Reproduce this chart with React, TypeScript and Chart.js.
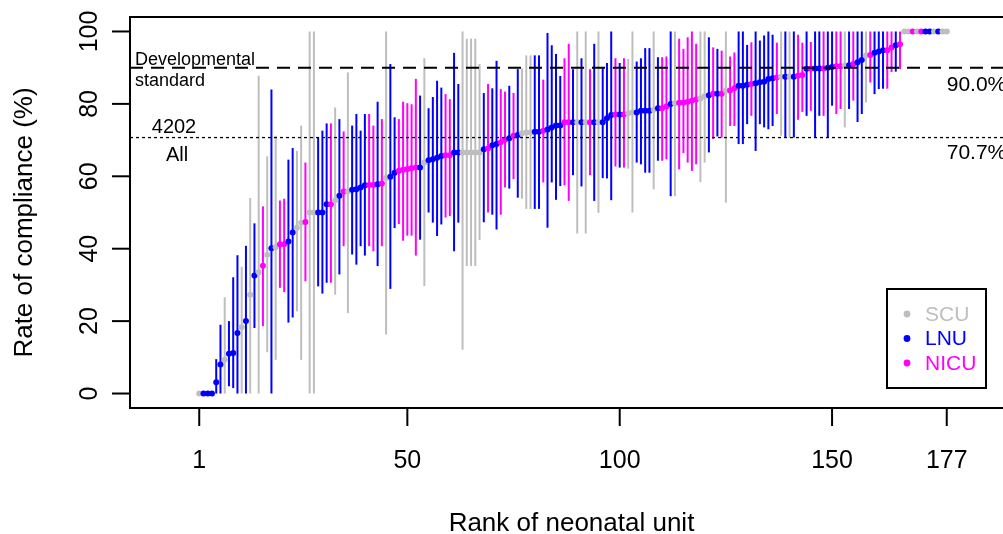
import React, { useEffect, useRef } from 'react';
import { Chart, registerables } from 'chart.js';
Chart.register(...registerables);

// Unit type per rank: S = SCU, L = LNU, N = NICU
const unitType = [
  'S','L','L','L','L','L','S','L','L','L',
  'S','L','S','L','S','N','S','L','S','N',
  'N','L','L','S','S','N','S','S','L','L',
  'L','N','S','L','N','S','L','L','L','L',
  'N','N','L','N','S','L','L','N','N','N',
  'N','N','L','S','L','L','L','L','N','N',
  'L','L','S','S','S','S','S','L','N','L',
  'L','N','N','L','N','L','S','S','S','L',
  'L','N','L','L','L','L','N','N','L','S',
  'L','S','N','L','S','L','L','L','N','L',
  'N','S','S','L','L','L','L','S','L','N',
  'N','L','S','N','N','N','N','N','S','S',
  'L','N','L','N','S','N','N','L','L','L',
  'N','L','L','L','L','L','N','S','L','S',
  'L','N','N','L','N','L','L','N','L','L',
  'N','N','S','L','N','L','L','S','N','L',
  'L','L','N','N','L','N','S','S','N','S',
  'N','L','L','S','L','S','S',
];

const rate = [
  0, 0, 0, 0, 3.1, 8.0, 9.3, 11.0, 11.2, 16.7,
  18.3, 20.0, 27.3, 32.6, 33.5, 35.3, 38.3, 40.1, 40.4, 41.2,
  41.2, 42.0, 44.5, 45.8, 47.2, 47.4, 50.0, 50.0, 50.0, 50.0,
  52.3, 52.3, 53.4, 54.6, 55.8, 55.8, 56.3, 56.4, 56.9, 57.5,
  57.6, 57.6, 57.8, 58.0, 59.5, 59.9, 61.0, 61.5, 61.8, 62.0,
  62.2, 62.4, 62.4, 63.8, 64.4, 64.7, 65.1, 65.6, 65.8, 65.8,
  66.6, 66.6, 66.6, 66.6, 66.6, 66.6, 66.6, 67.5, 67.7, 68.6,
  68.9, 69.4, 70.1, 70.5, 71.2, 71.4, 71.9, 72.1, 72.1, 72.3,
  72.3, 72.6, 72.9, 73.5, 74.0, 74.0, 74.9, 74.9, 74.9, 74.9,
  74.9, 74.9, 74.9, 74.9, 74.9, 74.9, 76.0, 76.9, 77.1, 77.1,
  77.1, 77.4, 77.6, 77.6, 78.1, 78.1, 78.1, 78.4, 78.8, 78.8,
  79.3, 80.0, 80.2, 80.3, 80.4, 80.6, 80.9, 81.2, 81.5, 82.1,
  82.4, 82.8, 82.8, 82.8, 83.7, 83.7, 84.3, 85.0, 85.0, 85.3,
  85.5, 85.7, 86.0, 86.1, 86.9, 87.1, 87.3, 87.5, 87.5, 87.5,
  87.5, 87.8, 88.0, 89.7, 89.8, 89.8, 89.8, 89.8, 90.0, 90.2,
  90.4, 90.4, 90.6, 90.7, 91.0, 91.5, 92.1, 93.4, 93.5, 94.1,
  94.5, 94.8, 94.8, 95.6, 96.2, 96.5, 100, 100, 100, 100,
  100, 100, 100, 100, 100, 100, 100,
];

const lower = [
  0, 0, 0, 0, 0, 0, 0, 2.0, 1.5, 0,
  0, 0, 0, 18.1, 0, 18.6, 11.4, 0, 9.3, 29.2,
  28.0, 19.6, 21.0, 22.7, 9.3, 31.0, 0, 0, 29.6, 27.6,
  30.6, 30.6, 27.3, 32.9, 40.7, 22.2, 38.4, 35.6, 40.7, 38.1,
  40.7, 39.3, 35.2, 40.7, 16.3, 28.9, 45.7, 46.8, 42.2, 43.6,
  43.6, 38.1, 42.5, 29.7, 50.0, 47.2, 43.5, 46.7, 48.6, 49.0,
  39.3, 47.2, 12.1, 35.2, 35.2, 35.2, 42.4, 47.3, 50.0, 49.4,
  45.3, 49.4, 56.9, 56.6, 59.2, 54.1, 53.8, 51.0, 51.0, 51.0,
  51.0, 58.3, 45.8, 58.3, 53.5, 57.3, 57.5, 53.2, 60.3, 44.2,
  57.2, 44.2, 60.3, 53.2, 49.9, 59.5, 59.4, 53.4, 62.7, 62.4,
  62.4, 62.1, 50.0, 63.8, 63.3, 61.0, 61.0, 56.4, 64.3, 64.3,
  64.7, 54.5, 54.5, 61.9, 66.4, 63.8, 61.5, 63.3, 58.4, 63.8,
  66.6, 70.3, 71.0, 70.7, 52.7, 73.9, 73.9, 68.9, 68.9, 74.4,
  76.7, 67.0, 74.4, 73.5, 73.0, 73.9, 77.2, 71.2, 70.7, 70.7,
  70.7, 75.6, 77.8, 76.7, 78.1, 70.7, 76.7, 76.7, 70.7, 79.5,
  77.2, 78.6, 73.5, 78.6, 80.9, 75.0, 77.2, 80.4, 85.9, 82.7,
  84.1, 84.2, 84.2, 88.8, 88.9, 89.6, 100, 100, 100, 100,
  100, 100, 100, 100, 100, 100, 100,
];

const upper = [
  0, 0, 0, 0, 9.5, 19.0, 26.6, 20.0, 32.1, 38.2,
  35.0, 40.8, 54.0, 47.0, 87.8, 51.7, 65.5, 84.0, 71.2, 53.3,
  53.8, 64.6, 67.8, 67.0, 74.0, 63.8, 100, 100, 70.7, 72.6,
  74.6, 74.6, 79.0, 75.8, 72.4, 88.7, 74.0, 77.2, 72.6, 77.2,
  77.2, 74.0, 80.6, 75.8, 100, 91.0, 76.3, 75.8, 80.6, 80.2,
  79.9, 86.9, 82.3, 92.6, 78.8, 81.9, 86.4, 84.5, 82.7, 81.3,
  94.1, 85.5, 100, 98.0, 98.0, 98.0, 91.0, 83.0, 85.5, 84.3,
  91.9, 84.1, 83.4, 85.0, 83.0, 89.6, 89.8, 93.4, 93.4, 93.4,
  93.4, 86.7, 99.6, 96.2, 93.8, 87.7, 92.6, 96.6, 89.6, 100,
  92.6, 100, 89.6, 96.6, 100, 90.0, 91.3, 100, 92.6, 91.3,
  92.6, 92.4, 100, 91.7, 92.6, 95.4, 95.4, 100, 92.9, 92.9,
  93.1, 100, 100, 98.0, 95.2, 98.4, 100, 96.6, 100, 100,
  98.4, 95.6, 95.2, 94.7, 100, 93.1, 94.2, 100, 100, 96.3,
  97.0, 100, 97.5, 98.9, 100, 99.1, 96.9, 100, 100, 100,
  100, 99.1, 96.9, 100, 97.1, 100, 100, 100, 100, 100,
  100, 100, 100, 100, 100, 100, 100, 100, 100, 100,
  100, 100, 100, 100, 100, 100, 100, 100, 100, 100,
  100, 100, 100, 100, 100, 100, 100,
];

const xTicks = [1, 50, 100, 150, 177];
const yTicks = [0, 20, 40, 60, 80, 100];
const standardRate = 90.0;
const overallRate = 70.7;
const overallN = '4202';
const legendCodes = ['S', 'L', 'N'];
const legendLabels = ['SCU', 'LNU', 'NICU'];
const xTitle = 'Rank of neonatal unit';
const yTitle = 'Rate of compliance (%)';

const typeColor: Record<string, string> = { S: '#BEBEBE', L: '#0000FF', N: '#FF00FF' };
const FONT = "'Liberation Sans', Arial, Helvetica, sans-serif";

const overlay = {
  id: 'overlay',
  beforeDatasetsDraw(chart: any) {
    const { ctx, scales } = chart;
    const x = scales.x, y = scales.y;
    ctx.save();
    ctx.lineWidth = 2;
    rate.forEach((_, i) => {
      if (upper[i] <= lower[i]) return;
      const px = x.getPixelForValue(i + 1);
      ctx.strokeStyle = typeColor[unitType[i]];
      ctx.beginPath();
      ctx.moveTo(px, y.getPixelForValue(lower[i]));
      ctx.lineTo(px, y.getPixelForValue(upper[i]));
      ctx.stroke();
    });
    ctx.restore();
  },
  afterDraw(chart: any) {
    const { ctx, scales, chartArea } = chart;
    const x = scales.x, y = scales.y;
    const { left, right, top, bottom } = chartArea;
    ctx.save();
    // reference lines
    const ys = y.getPixelForValue(standardRate);
    ctx.strokeStyle = '#000';
    ctx.lineWidth = 2;
    ctx.setLineDash([13, 8]);
    ctx.beginPath(); ctx.moveTo(left, ys); ctx.lineTo(right, ys); ctx.stroke();
    const yo = y.getPixelForValue(overallRate);
    ctx.lineWidth = 1.3;
    ctx.setLineDash([3, 3]);
    ctx.beginPath(); ctx.moveTo(left, yo); ctx.lineTo(right, yo); ctx.stroke();
    ctx.setLineDash([]);

    // annotations
    ctx.fillStyle = '#000';
    ctx.textAlign = 'left';
    ctx.textBaseline = 'alphabetic';
    ctx.font = `18px ${FONT}`;
    ctx.fillText('Developmental', left + 5, ys - 3);
    ctx.fillText('standard', left + 5, ys + 18);
    ctx.font = `20px ${FONT}`;
    ctx.textAlign = 'center';
    ctx.fillText(overallN, left + 44, yo - 5);
    ctx.fillText('All', left + 47, yo + 23);
    ctx.font = `21px ${FONT}`;
    ctx.textAlign = 'left';
    const xr = x.getPixelForValue(xTicks[xTicks.length - 1]);
    ctx.fillText(standardRate.toFixed(1) + '%', xr, ys + 23);
    ctx.fillText(overallRate.toFixed(1) + '%', xr, yo + 21);

    // box
    ctx.lineWidth = 2;
    ctx.strokeRect(left, top, right - left, bottom - top);

    // x axis ticks
    ctx.font = `25px ${FONT}`;
    ctx.textAlign = 'center';
    ctx.textBaseline = 'alphabetic';
    xTicks.forEach((t) => {
      const px = x.getPixelForValue(t);
      ctx.beginPath(); ctx.moveTo(px, bottom); ctx.lineTo(px, bottom + 18); ctx.stroke();
      ctx.fillText(String(t), px, 468);
    });
    // y axis ticks
    yTicks.forEach((t) => {
      const py = y.getPixelForValue(t);
      ctx.beginPath(); ctx.moveTo(left, py); ctx.lineTo(left - 18, py); ctx.stroke();
      ctx.save();
      ctx.translate(97, py);
      ctx.rotate(-Math.PI / 2);
      ctx.fillText(String(t), 0, 0);
      ctx.restore();
    });
    // titles
    ctx.font = `26px ${FONT}`;
    ctx.fillText(xTitle, (left + right) / 2, 531);
    ctx.save();
    ctx.translate(32, (top + bottom) / 2 + 10);
    ctx.rotate(-Math.PI / 2);
    ctx.fillText(yTitle, 0, 0);
    ctx.restore();

    // legend
    const bx = 887, by = 289, bw = 99, bh = 99;
    ctx.fillStyle = '#fff';
    ctx.fillRect(bx, by, bw, bh);
    ctx.strokeStyle = '#000';
    ctx.lineWidth = 2;
    ctx.strokeRect(bx, by, bw, bh);
    ctx.font = `21px ${FONT}`;
    ctx.textAlign = 'left';
    ctx.textBaseline = 'middle';
    legendCodes.forEach((c, i) => {
      const cy = by + 25 + i * 24.5;
      ctx.fillStyle = typeColor[c];
      ctx.beginPath(); ctx.arc(bx + 20, cy, 3.4, 0, Math.PI * 2); ctx.fill();
      ctx.fillText(legendLabels[i], bx + 38, cy + 1);
    });
    ctx.restore();
  },
};

export default function App() {
  const ref = useRef<HTMLCanvasElement | null>(null);
  useEffect(() => {
    document.body.style.margin = '0';
    const canvas = ref.current!;
    const chart = new Chart(canvas, {
      type: 'scatter',
      data: {
        datasets: [
          {
            data: rate.map((v, i) => ({ x: i + 1, y: v })),
            pointBackgroundColor: unitType.map((t) => typeColor[t]),
            pointBorderWidth: 0,
            pointRadius: 3,
            pointHoverRadius: 3,
            showLine: false,
          },
        ],
      },
      options: {
        animation: false,
        responsive: false,
        maintainAspectRatio: false,
        devicePixelRatio: 1,
        events: [],
        layout: { padding: { left: 130, right: 17, top: 17, bottom: 126 } },
        scales: {
          x: { type: 'linear', min: -15.3, max: 192.6, display: false },
          y: { type: 'linear', min: -4, max: 104, display: false },
        },
        plugins: { legend: { display: false }, tooltip: { enabled: false } },
      },
      plugins: [overlay],
    });
    return () => chart.destroy();
  }, []);
  return (
    <div style={{ width: 1003, height: 534, overflow: 'hidden', position: 'relative', background: '#fff' }}>
      <canvas ref={ref} width={1030} height={534} style={{ width: 1030, height: 534, display: 'block' }} />
    </div>
  );
}
